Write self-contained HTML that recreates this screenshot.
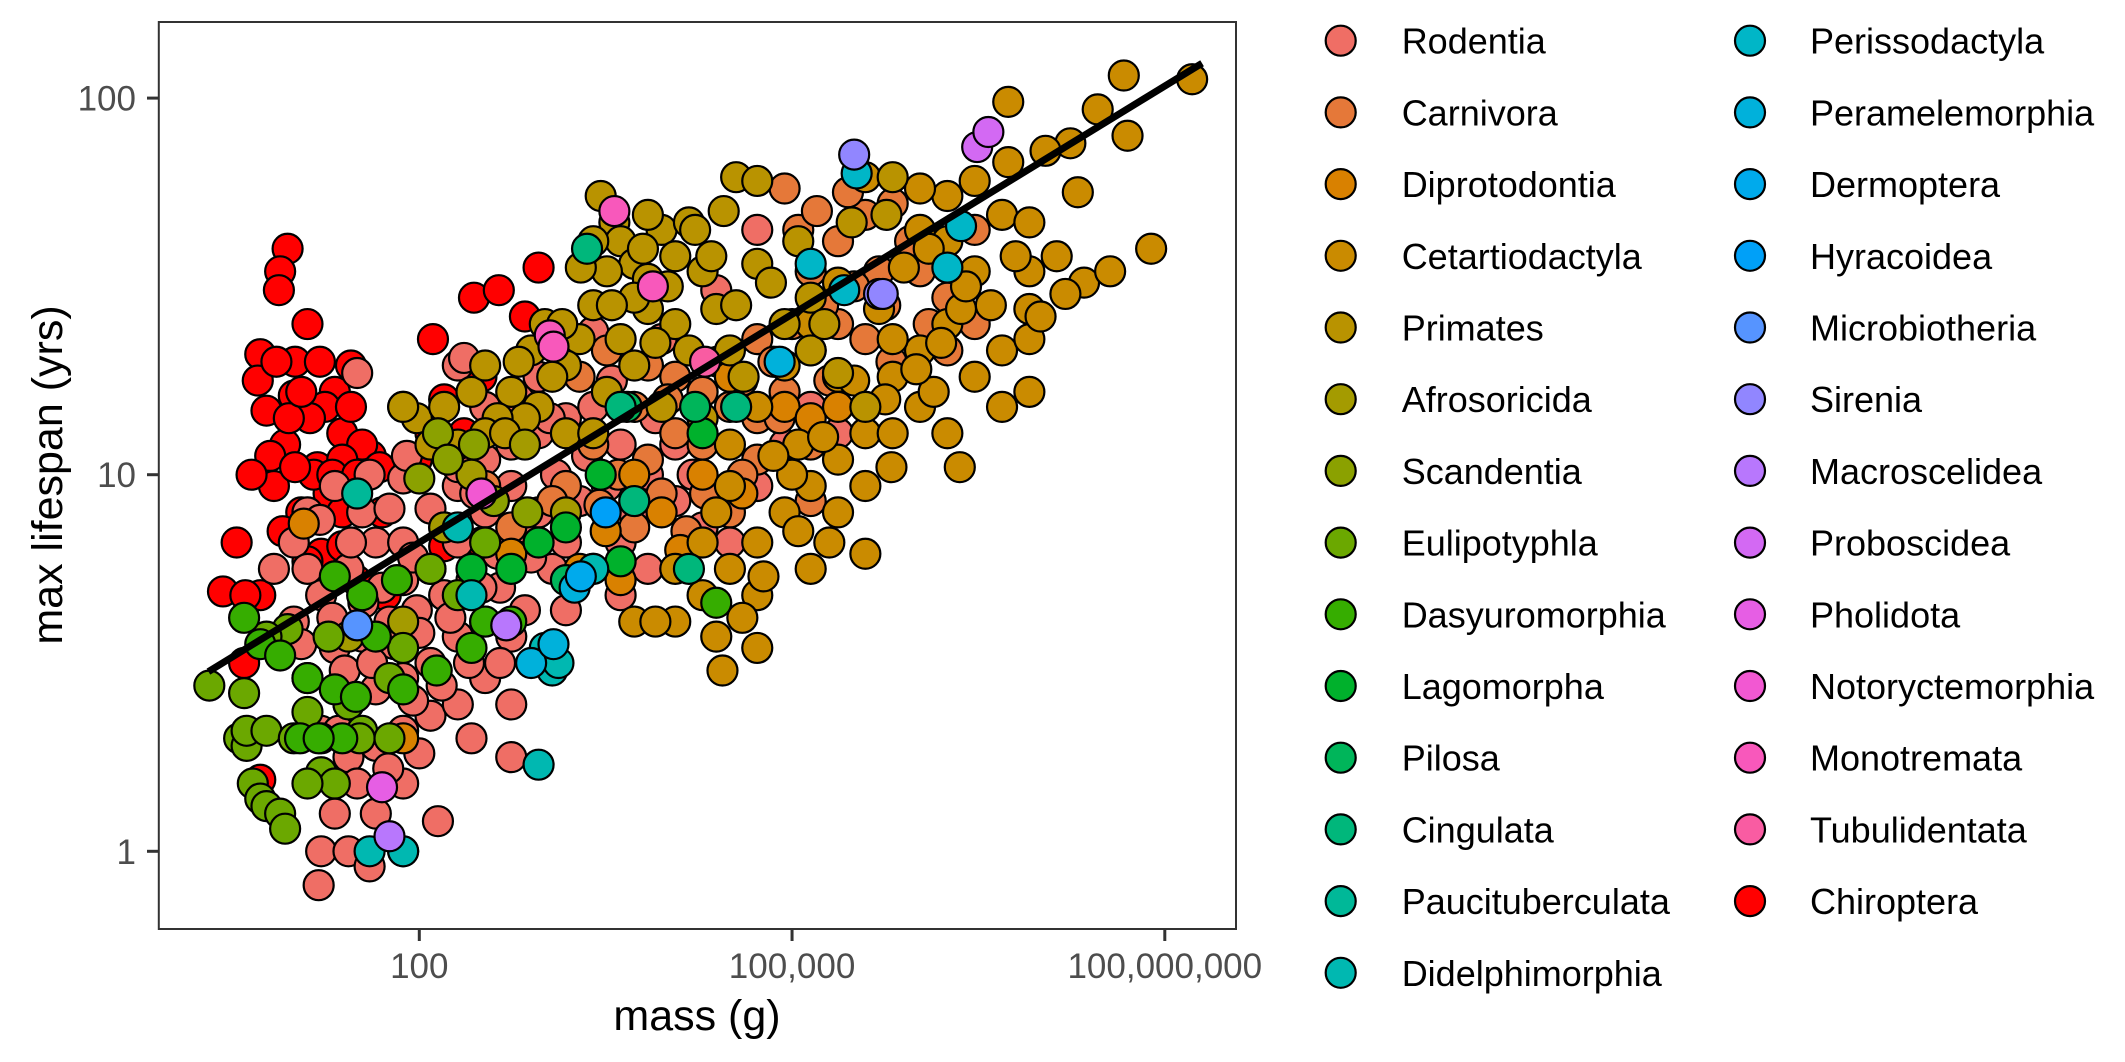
<!DOCTYPE html>
<html><head><meta charset="utf-8"><style>
html,body{margin:0;padding:0;background:#fff;}
svg{display:block;}
text{font-family:"Liberation Sans",Arial,sans-serif;}
</style></head><body>
<svg id="chart" width="2125" height="1062" viewBox="0 0 2125 1062" xmlns="http://www.w3.org/2000/svg">
<rect x="0" y="0" width="2125" height="1062" fill="#fff"/>
<g id="points"></g>
<g id="fit"></g>
<rect x="158.8" y="22" width="1077.2" height="907" fill="none" stroke="#333" stroke-width="2"/>
<g id="axes"></g>
<text x="697" y="1030" font-size="43" text-anchor="middle" fill="#000">mass (g)</text>
<text transform="translate(62,475) rotate(-90)" font-size="43" text-anchor="middle" fill="#000">max lifespan (yrs)</text>
<g id="legend"></g>
</svg>
<script>
const orderNames = ["Rodentia","Carnivora","Diprotodontia","Cetartiodactyla","Primates","Afrosoricida","Scandentia","Eulipotyphla","Dasyuromorphia","Lagomorpha","Pilosa","Cingulata","Paucituberculata","Didelphimorphia","Perissodactyla","Peramelemorphia","Dermoptera","Hyracoidea","Microbiotheria","Sirenia","Macroscelidea","Proboscidea","Pholidota","Notoryctemorphia","Monotremata","Tubulidentata","Chiroptera"];
const xTickValues = [2,5,8];
const xTickLabels = ["100","100,000","100,000,000"];
const yTickValues = [0,1,2];
const yTickLabels = ["1","10","100"];
const fitIntercept = 0.416;
const fitSlope = 0.202;
const fitRange = [0.303, 8.30];
// each entry: [log10 mass (g), log10 max lifespan (yrs)]
const rodentia = [[1.10,0.90],[1.32,0.97],[1.60,1.00],[1.87,0.99],[2.09,0.91],[2.31,0.97],[2.53,1.04],[2.74,1.08],[2.96,1.11],[3.18,1.15],[3.40,1.18],[3.62,1.08],[3.84,1.00],[4.06,0.93],[4.28,0.86],[4.50,0.82],[4.72,0.97],[4.94,1.08],[5.15,1.18],[5.37,1.11],[3.40,1.38],[3.95,1.36],[4.39,1.49],[4.72,1.65],[2.31,1.29],[2.53,1.18],[2.96,1.26],[3.07,0.75],[2.85,0.86],[2.63,0.79],[2.42,0.72],[2.20,0.68],[1.98,0.64],[1.76,0.61],[1.54,0.57],[1.32,0.54],[1.10,0.46],[0.99,0.61],[1.21,0.68],[1.43,0.75],[1.65,0.82],[1.87,0.82],[2.09,0.75],[2.31,0.82],[2.53,0.90],[2.74,0.97],[2.96,0.90],[3.18,0.82],[3.40,0.75],[3.62,0.68],[3.73,0.90],[3.51,0.97],[3.29,0.93],[1.43,0.39],[1.65,0.43],[1.87,0.46],[2.09,0.50],[2.31,0.57],[2.53,0.61],[2.74,0.57],[2.85,0.64],[1.21,0.32],[1.43,0.25],[1.65,0.28],[1.87,0.32],[2.09,0.36],[2.31,0.39],[2.53,0.46],[1.32,0.10],[1.21,0.00],[1.43,0.00],[1.65,0.10],[1.87,0.18],[1.60,-0.04],[1.19,-0.09],[1.87,0.00],[2.42,0.30],[2.74,0.25],[2.15,0.08],[2.74,0.39],[3.62,0.82],[3.84,0.75],[4.06,1.08],[0.99,0.82],[0.83,0.75],[1.54,0.90],[1.76,0.91],[1.87,0.72],[2.31,1.02],[3.18,0.64],[1.10,0.75],[2.36,1.31],[1.50,1.27],[1.20,0.88],[1.45,0.82],[1.70,0.70],[1.95,0.78],[2.20,0.86],[2.45,0.95],[2.65,0.70],[2.90,0.78],[3.10,1.00],[3.35,1.05],[1.30,0.62],[1.55,0.66],[1.80,0.55],[2.00,0.58],[2.25,0.62],[2.50,0.70],[1.40,0.48],[1.62,0.50],[1.95,0.40],[2.18,0.44],[2.40,0.50],[2.65,0.50],[1.50,0.18],[1.75,0.22],[2.00,0.26],[1.35,0.32],[1.05,0.55],[2.80,1.20],[3.05,1.15],[3.55,1.25],[2.60,1.12],[1.90,1.05],[4.20,1.00],[3.90,1.15]];
const carnivora = [[3.84,1.29],[4.06,1.26],[4.28,1.22],[4.50,1.18],[4.72,1.15],[4.94,1.22],[5.15,1.33],[5.37,1.40],[5.59,1.36],[5.15,1.54],[5.37,1.62],[5.59,1.69],[5.81,1.72],[6.03,1.54],[6.25,1.47],[4.72,1.36],[4.28,1.08],[3.73,1.18],[3.40,1.08],[3.18,0.97],[3.84,1.04],[4.06,1.11],[4.72,1.04],[5.15,1.08],[5.59,1.18],[6.25,1.33],[6.47,1.40],[4.94,1.76],[5.05,1.65],[3.51,1.33],[3.29,1.26],[3.07,0.93],[2.74,0.86],[2.53,0.97],[6.47,1.65],[4.50,0.90],[5.15,0.93],[3.73,0.86],[5.70,1.54],[4.00,1.20],[4.40,1.30],[4.60,1.25],[4.85,1.30],[5.00,1.40],[5.25,1.45],[5.50,1.50],[5.75,1.45],[5.95,1.62],[4.30,0.95],[4.60,1.00],[4.90,1.15],[3.60,1.00],[3.95,0.95],[5.30,1.25],[5.80,1.30],[6.10,1.40],[5.45,1.75],[5.20,1.70],[3.45,0.92],[4.15,0.85]];
const diprotodontia = [[3.62,0.72],[3.29,0.75],[4.94,1.18],[4.50,1.26],[5.15,1.15],[1.87,0.30],[1.07,0.87],[2.74,0.79],[3.95,0.90],[5.37,1.18],[4.28,1.00],[3.73,1.00],[4.10,0.80],[4.60,0.95],[3.50,0.85]];
const cetartiodactyla = [[8.22,2.05],[7.67,2.06],[7.46,1.97],[7.24,1.88],[7.04,1.86],[6.74,1.99],[6.74,1.83],[6.47,1.78],[6.25,1.74],[6.69,1.69],[6.91,1.67],[6.25,1.62],[6.03,1.65],[6.47,1.54],[6.91,1.54],[7.13,1.58],[7.35,1.51],[7.56,1.54],[7.89,1.60],[6.25,1.40],[6.03,1.33],[5.81,1.26],[5.59,1.11],[5.37,1.04],[5.15,0.97],[4.94,0.90],[4.72,0.82],[4.50,0.75],[4.28,0.68],[4.06,0.61],[5.81,1.11],[6.03,1.18],[6.47,1.26],[6.69,1.33],[6.91,1.36],[5.59,0.97],[5.37,0.90],[5.15,0.75],[4.72,0.68],[4.50,0.97],[4.28,0.82],[6.25,1.11],[6.36,1.44],[5.70,1.44],[5.37,1.51],[6.03,1.76],[5.15,1.40],[4.94,1.29],[4.50,1.08],[4.72,1.18],[4.06,0.75],[3.73,0.61],[4.72,0.54],[4.39,0.57],[5.37,1.26],[5.81,1.36],[6.14,1.22],[6.69,1.18],[6.91,1.22],[5.59,0.79],[4.39,0.90],[5.05,1.08],[6.91,1.44],[5.59,1.79],[4.44,0.48],[4.77,0.73],[3.90,0.61],[5.00,1.00],[5.25,1.10],[5.50,1.25],[5.75,1.20],[6.00,1.28],[6.20,1.35],[6.40,1.50],[6.60,1.45],[6.80,1.58],[7.00,1.42],[7.20,1.48],[5.90,1.55],[6.10,1.60],[4.85,1.05],[5.30,0.82],[5.80,1.02],[6.35,1.02],[7.30,1.75],[7.70,1.90],[4.60,0.62],[5.05,0.85]];
const primates = [[3.46,1.74],[3.57,1.67],[3.62,1.62],[3.73,1.56],[3.84,1.52],[3.95,1.65],[4.06,1.58],[4.17,1.67],[4.22,1.65],[4.28,1.54],[4.39,1.44],[4.50,1.33],[4.61,1.26],[3.40,1.45],[3.29,1.36],[3.18,1.29],[3.07,1.26],[2.96,1.18],[2.85,1.15],[2.74,1.22],[2.63,1.15],[2.53,1.11],[2.42,1.22],[2.31,1.08],[2.09,1.08],[1.98,1.15],[1.87,1.18],[2.20,1.18],[2.90,1.33],[3.01,1.40],[3.62,1.36],[3.84,1.44],[4.06,1.40],[4.17,1.33],[3.73,1.29],[3.51,1.22],[4.72,1.56],[4.83,1.51],[4.94,1.40],[5.15,1.33],[5.37,1.27],[5.59,1.18],[4.55,1.79],[4.72,1.78],[5.15,1.47],[5.26,1.40],[3.95,1.18],[4.28,1.15],[3.51,1.54],[2.69,1.11],[3.18,1.11],[5.81,1.79],[5.48,1.67],[5.05,1.62],[5.76,1.69],[2.53,1.29],[3.84,1.69],[3.40,1.11],[3.73,1.47],[3.30,1.55],[3.55,1.45],[3.80,1.60],[4.00,1.50],[4.35,1.58],[4.55,1.45],[3.15,1.40],[2.80,1.30],[3.40,1.62],[3.90,1.35],[4.45,1.70]];
const afrosoricida = [[2.85,1.08],[2.20,0.86],[1.87,0.61],[1.43,0.57],[2.42,1.00],[3.18,0.90]];
const scandentia = [[2.15,1.11],[2.44,1.08],[2.23,1.04],[2.87,0.90],[2.00,0.99],[2.60,0.93]];
const eulipotyphla = [[0.31,0.44],[0.59,0.42],[0.55,0.30],[0.61,0.28],[0.66,0.18],[0.72,0.14],[0.77,0.12],[0.88,0.10],[0.92,0.06],[0.61,0.32],[0.77,0.32],[1.10,0.37],[1.43,0.39],[1.21,0.21],[1.32,0.18],[1.10,0.18],[0.99,0.30],[1.54,0.32],[1.87,0.54],[1.76,0.46],[2.09,0.75],[2.31,0.68],[2.53,0.82],[0.94,0.59],[1.27,0.57],[1.52,0.30],[0.77,0.57],[1.76,0.30],[1.21,0.30]];
const dasyuromorphia = [[0.59,0.62],[0.72,0.55],[0.88,0.52],[1.10,0.46],[1.32,0.43],[1.49,0.41],[1.65,0.57],[1.87,0.43],[2.14,0.48],[2.42,0.54],[2.53,0.61],[1.82,0.72],[1.54,0.68],[2.74,0.61],[1.32,0.73],[1.04,0.30],[1.38,0.30],[1.19,0.30],[4.39,0.66]];
const lagomorpha = [[2.74,0.75],[2.96,0.82],[3.18,0.86],[3.62,0.77],[4.28,1.11],[3.46,1.00],[2.42,0.75]];
const pilosa = [[3.67,1.18],[4.22,1.18],[3.18,0.72]];
const cingulata = [[4.17,0.75],[4.55,1.18],[3.35,1.60],[3.62,1.18],[3.73,0.93]];
const paucituberculata = [[1.50,0.95]];
const didelphimorphia = [[2.96,0.23],[1.60,0.00],[1.87,0.00],[3.01,0.54],[3.07,0.48],[3.12,0.50],[2.31,0.86],[3.40,0.75],[2.42,0.68]];
const perissodactyla = [[5.52,1.80],[5.42,1.49],[5.15,1.56],[6.36,1.66],[6.25,1.55]];
const peramelemorphia = [[2.90,0.50],[3.25,0.70],[3.08,0.55],[4.90,1.30]];
const dermoptera = [[3.30,0.73]];
const hyracoidea = [[3.50,0.90]];
const microbiotheria = [[1.50,0.60]];
const sirenia = [[5.50,1.85],[5.70,1.48],[5.73,1.48]];
const macroscelidea = [[2.70,0.60],[1.76,0.04]];
const proboscidea = [[6.49,1.87],[6.58,1.91]];
const pholidota = [[1.70,0.17]];
const notoryctemorphia = [[2.50,0.95]];
const monotremata = [[3.57,1.70],[3.05,1.37],[3.88,1.50],[3.08,1.34]];
const tubulidentata = [[4.30,1.30]];
const chiroptera = [[0.94,1.60],[0.88,1.54],[0.87,1.49],[0.72,1.32],[0.99,1.21],[1.45,1.29],[1.32,1.22],[1.24,1.18],[1.12,1.15],[0.77,1.17],[0.92,1.08],[1.38,1.11],[1.18,1.02],[0.83,0.97],[1.27,0.95],[1.61,1.05],[1.54,1.08],[1.21,0.79],[0.53,0.82],[0.42,0.69],[0.72,0.68],[1.38,0.81],[1.70,0.90],[1.38,0.90],[1.87,1.18],[2.11,1.36],[2.20,1.20],[2.44,1.47],[2.64,1.49],[2.50,1.26],[2.85,1.42],[2.36,1.11],[2.09,1.11],[1.98,1.04],[2.20,0.81],[1.73,0.68],[1.49,0.72],[1.10,0.77],[0.59,0.50],[0.72,0.19],[2.96,1.55],[1.38,1.04],[1.68,1.02],[1.05,0.90],[0.95,1.15],[1.60,0.70],[2.50,0.82],[0.60,0.68],[1.00,1.30],[1.15,1.00],[0.70,1.25],[0.85,1.30],[1.05,1.22],[1.20,1.30],[0.80,1.05],[1.00,1.02],[1.30,1.00],[1.50,1.00],[0.65,1.00],[0.90,0.85],[1.45,1.18],[1.10,1.40]];

const groupData = [rodentia,carnivora,diprotodontia,cetartiodactyla,primates,afrosoricida,scandentia,eulipotyphla,dasyuromorphia,lagomorpha,pilosa,cingulata,paucituberculata,didelphimorphia,perissodactyla,peramelemorphia,dermoptera,hyracoidea,microbiotheria,sirenia,macroscelidea,proboscidea,pholidota,notoryctemorphia,monotremata,tubulidentata,chiroptera];

const NS = "http://www.w3.org/2000/svg";
function xScale(v){ return 419.3 + (v - 2) * 124.25; }
function yScale(v){ return 851.3 - v * 376.6; }

function hcl(h, c, l){
  const hr = h * Math.PI / 180;
  const u = c * Math.cos(hr), v = c * Math.sin(hr);
  const Xn = 95.047, Yn = 100, Zn = 108.883;
  const den = Xn + 15 * Yn + 3 * Zn;
  const un = 4 * Xn / den, vn = 9 * Yn / den;
  const Y = Yn * Math.pow((l + 16) / 116, 3);
  const up = u / (13 * l) + un, vp = v / (13 * l) + vn;
  const X = Y * 9 * up / (4 * vp);
  const Z = Y * (12 - 3 * up - 20 * vp) / (4 * vp);
  const x = X / 100, y = Y / 100, z = Z / 100;
  let r = 3.2404542 * x - 1.5371385 * y - 0.4985314 * z;
  let g = -0.9692660 * x + 1.8760108 * y + 0.0415560 * z;
  let b = 0.0556434 * x - 0.2040259 * y + 1.0572252 * z;
  const gam = t => { t = t <= 0.0031308 ? 12.92 * t : 1.055 * Math.pow(t, 1 / 2.4) - 0.055; return Math.round(Math.max(0, Math.min(1, t)) * 255); };
  return "rgb(" + gam(r) + "," + gam(g) + "," + gam(b) + ")";
}
const n = orderNames.length;
const colors = orderNames.map((nm, i) => nm === "Chiroptera" ? "#FF0000" : hcl(15 + i * 360 / n, 100, 62));

const pts = document.getElementById("points");
const drawOrder = [26,0,1,2,3,4,5,6,7,8,9,10,11,12,13,14,15,16,17,18,19,20,21,22,23,24,25];
drawOrder.forEach(gi => {
  groupData[gi].forEach(d => {
    const c = document.createElementNS(NS, "circle");
    c.setAttribute("cx", xScale(d[0]));
    c.setAttribute("cy", yScale(d[1]));
    c.setAttribute("r", 15);
    c.setAttribute("fill", colors[gi]);
    c.setAttribute("stroke", "#000");
    c.setAttribute("stroke-width", 2.2);
    
    
    pts.appendChild(c);
  });
});

const fit = document.getElementById("fit");
const ln = document.createElementNS(NS, "line");
ln.setAttribute("x1", xScale(fitRange[0]));
ln.setAttribute("y1", yScale(fitIntercept + fitSlope * fitRange[0]));
ln.setAttribute("x2", xScale(fitRange[1]));
ln.setAttribute("y2", yScale(fitIntercept + fitSlope * fitRange[1]));
ln.setAttribute("stroke", "#000");
ln.setAttribute("stroke-width", 7);


fit.appendChild(ln);

const axes = document.getElementById("axes");
xTickValues.forEach((v, i) => {
  const x = xScale(v);
  const t = document.createElementNS(NS, "line");
  t.setAttribute("x1", x); t.setAttribute("x2", x);
  t.setAttribute("y1", 929); t.setAttribute("y2", 941);
  t.setAttribute("stroke", "#333"); t.setAttribute("stroke-width", 3);
  
  
  axes.appendChild(t);
  const lb = document.createElementNS(NS, "text");
  lb.setAttribute("x", x); lb.setAttribute("y", 978);
  lb.setAttribute("font-size", 35); lb.setAttribute("fill", "#4d4d4d");
  lb.setAttribute("text-anchor", "middle");
  lb.textContent = xTickLabels[i];
  
  
  axes.appendChild(lb);
});
yTickValues.forEach((v, i) => {
  const y = yScale(v);
  const t = document.createElementNS(NS, "line");
  t.setAttribute("x1", 147); t.setAttribute("x2", 158.8);
  t.setAttribute("y1", y); t.setAttribute("y2", y);
  t.setAttribute("stroke", "#333"); t.setAttribute("stroke-width", 3);
  
  
  axes.appendChild(t);
  const lb = document.createElementNS(NS, "text");
  lb.setAttribute("x", 136); lb.setAttribute("y", y + 12.5);
  lb.setAttribute("font-size", 35); lb.setAttribute("fill", "#4d4d4d");
  lb.setAttribute("text-anchor", "end");
  lb.textContent = yTickLabels[i];
  
  
  axes.appendChild(lb);
});

const leg = document.getElementById("legend");
orderNames.forEach((nm, i) => {
  const col = i < 14 ? 0 : 1;
  const row = i < 14 ? i : i - 14;
  const cx = col === 0 ? 1340.7 : 1750;
  const tx = col === 0 ? 1401.7 : 1810;
  const cy = 40.7 + row * 71.7;
  const g = document.createElementNS(NS, "g");
  
  
  const c = document.createElementNS(NS, "circle");
  c.setAttribute("cx", cx); c.setAttribute("cy", cy); c.setAttribute("r", 15);
  c.setAttribute("fill", colors[i]); c.setAttribute("stroke", "#000"); c.setAttribute("stroke-width", 2.2);
  
  
  g.appendChild(c);
  const t = document.createElementNS(NS, "text");
  t.setAttribute("x", tx); t.setAttribute("y", cy + 13);
  t.setAttribute("font-size", 36); t.setAttribute("fill", "#000");
  t.textContent = nm;
  
  
  g.appendChild(t);
  leg.appendChild(g);
});
</script>
</body></html>
